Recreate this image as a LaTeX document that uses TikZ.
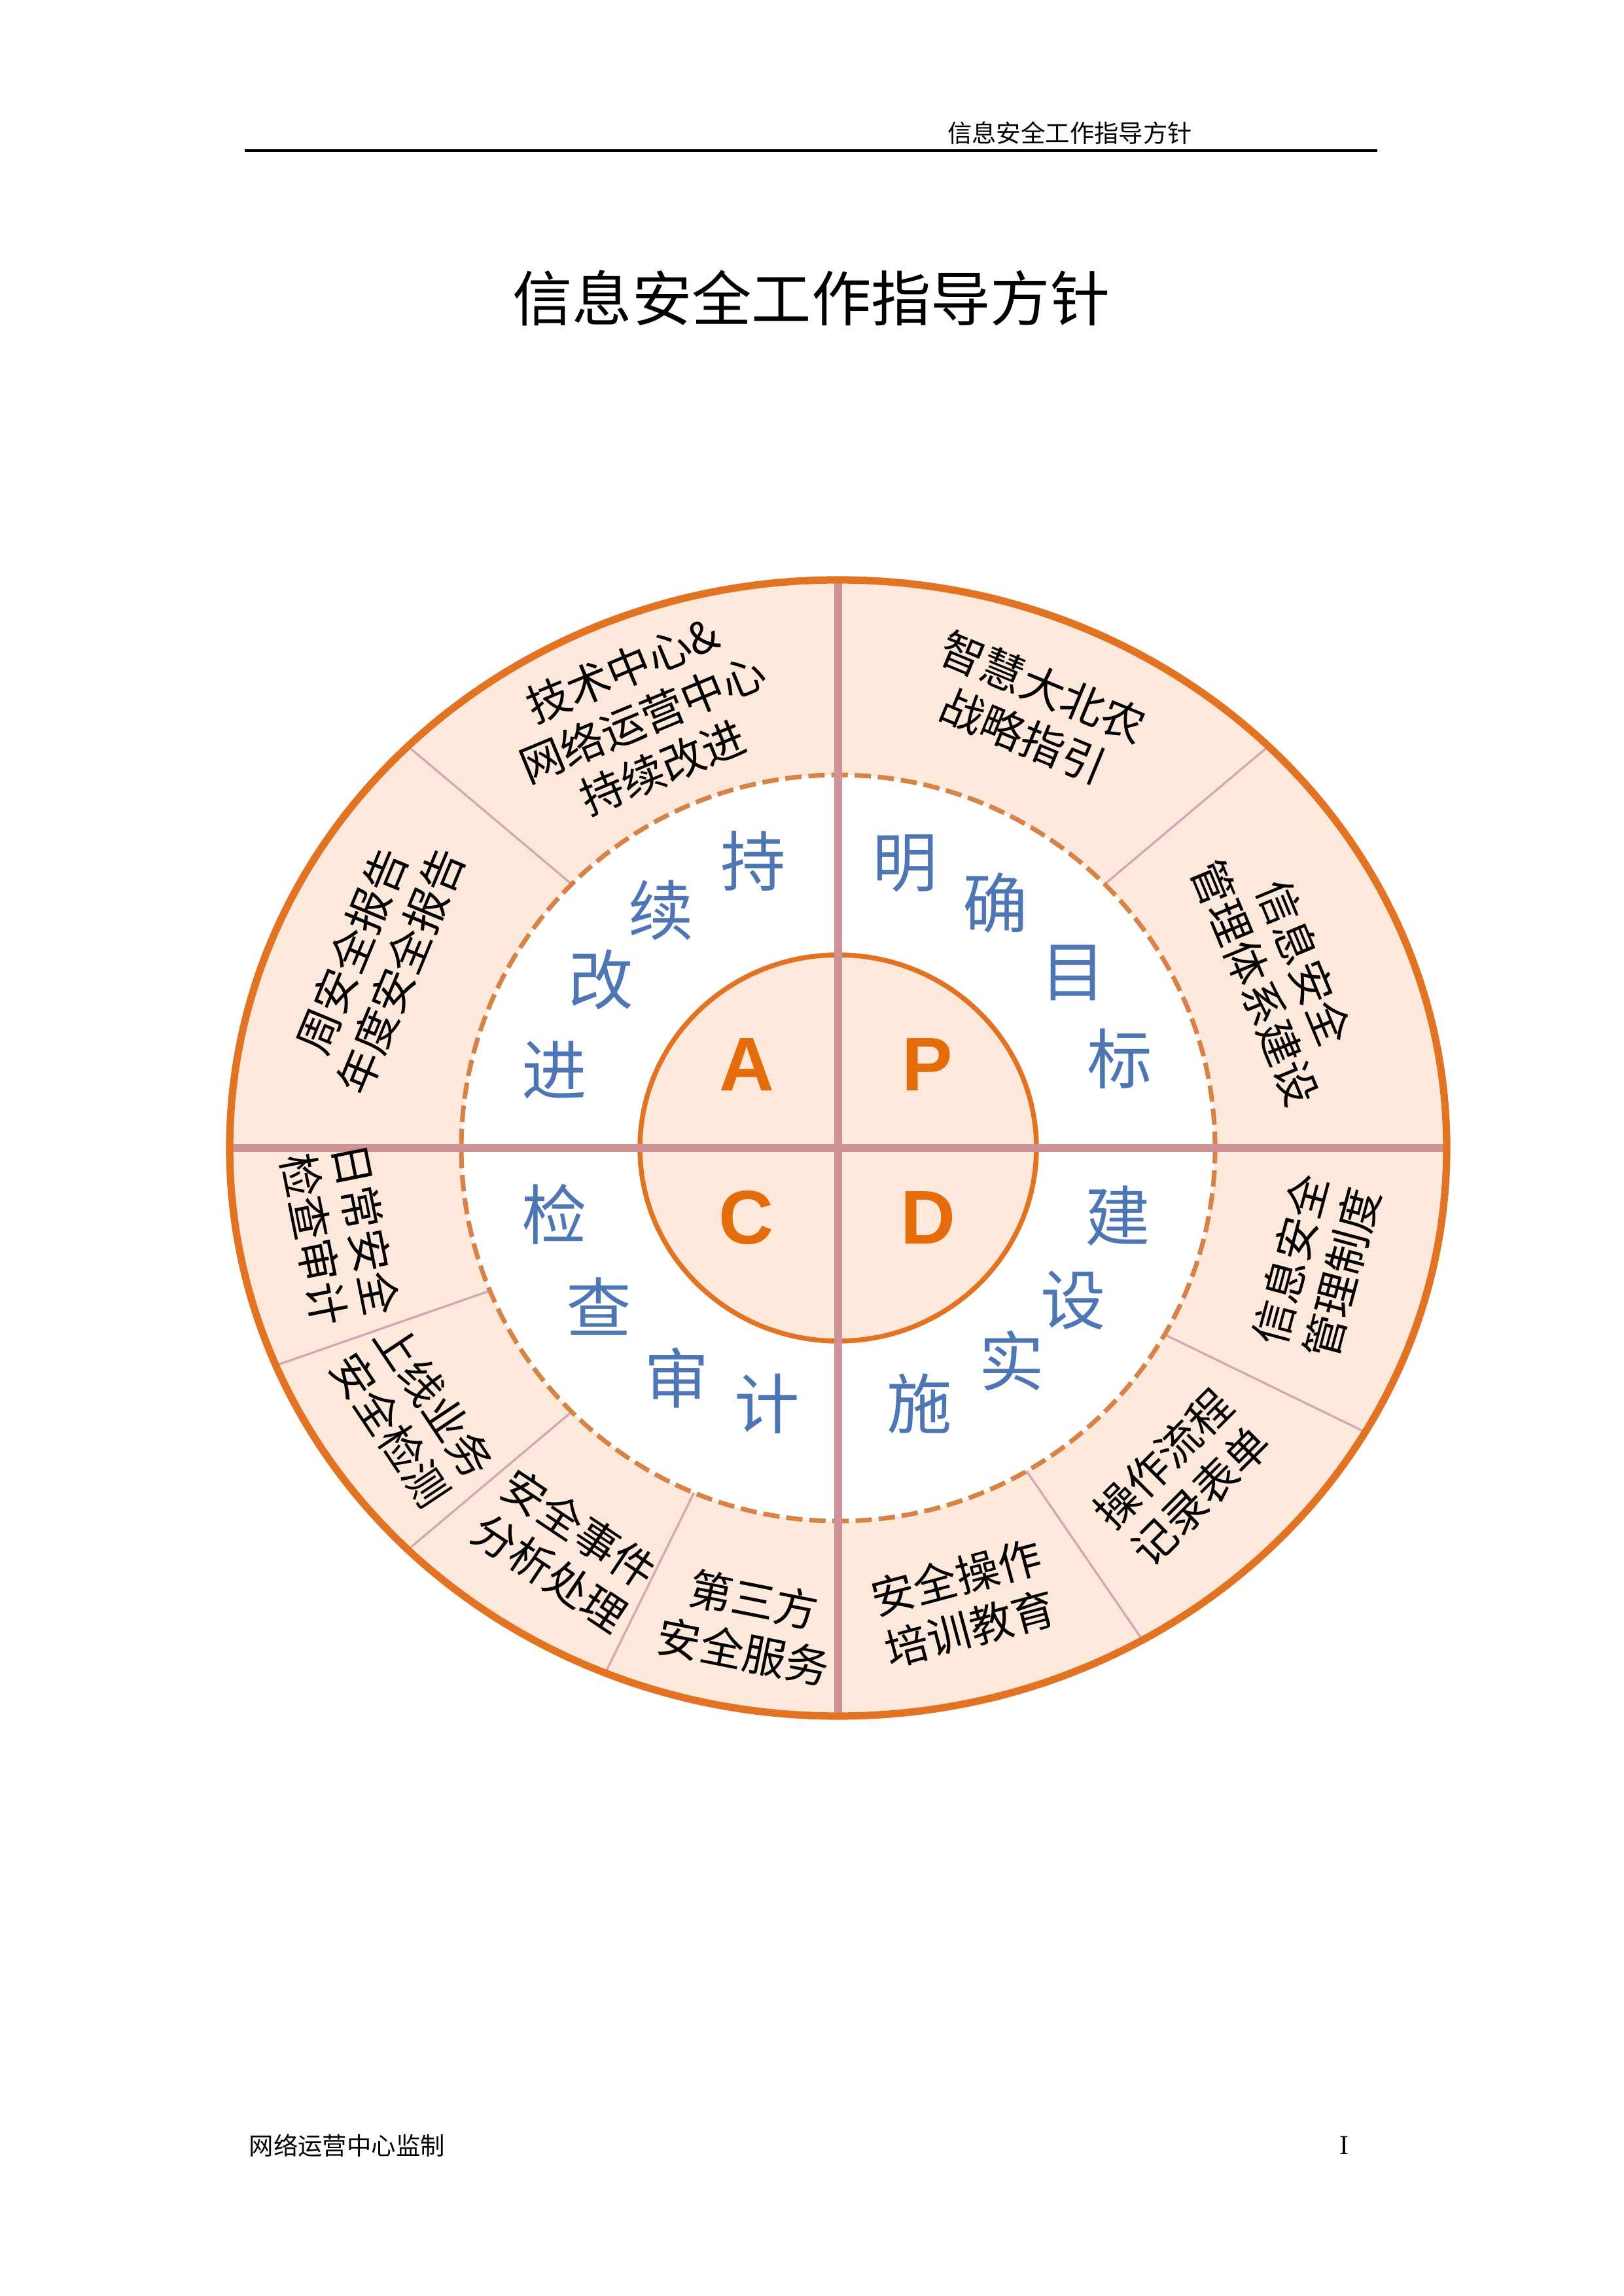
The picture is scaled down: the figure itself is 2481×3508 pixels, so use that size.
\documentclass[tikz,border=0pt]{standalone}
\usepackage{fontspec}
\setmainfont{Liberation Serif}
\newfontfamily\cjk{Noto Sans CJK SC}
\newfontfamily\latinsans{Liberation Sans}
\definecolor{orangeS}{RGB}{225,115,35}
\definecolor{ringfill}{RGB}{253,233,219}
\definecolor{crossc}{RGB}{207,146,150}
\definecolor{divc}{RGB}{212,168,178}
\definecolor{dashc}{RGB}{215,130,70}
\definecolor{bluec}{RGB}{79,118,180}
\definecolor{pdcac}{RGB}{228,108,10}
\tikzset{
  lbl/.style={font=\cjk\fontsize{16}{19.5}\selectfont, align=center, inner sep=0pt},
  bluech/.style={font=\cjk\fontsize{24}{28}\selectfont, text=bluec, inner sep=0pt},
  pdca/.style={font=\latinsans\bfseries\fontsize{28}{32}\selectfont, text=pdcac, inner sep=0pt},
  divider/.style={draw=divc, line width=0.8bp},
  crossline/.style={draw=crossc, line width=3.1bp},
  dashring/.style={draw=dashc, line width=1.7bp, dash pattern=on 6bp off 2.5bp}
}
\begin{document}
\begin{tikzpicture}[x=0.24bp, y=0.24bp]
\useasboundingbox (0,0) rectangle (2481,3508);
% header
\node[font=\cjk\fontsize{9}{11}\selectfont, inner sep=0pt] (hdr) at (1635,3305) {信息安全工作指导方针};
\coordinate (hl) at (374,3278);
\coordinate (hr) at (2105,3278);
\draw[line width=1.1bp] (hl) -- (hr);
% title
\node[font=\cjk\fontsize{22}{26}\selectfont, inner sep=0pt] (title) at (1240,3053) {信息安全工作指导方针};
% footer
\node[font=\cjk\fontsize{9}{11}\selectfont, inner sep=0pt, anchor=west] (foot) at (380,230) {网络运营中心监制};
\node[font=\fontsize{10}{12}\selectfont, inner sep=0pt] (page) at (2054,230) {I};
% wheel
\begin{scope}[shift={(1281,1754)}]
  \fill[ringfill] (0,0) ellipse [x radius=930, y radius=868];
  \fill[white] (0,0) ellipse [x radius=576, y radius=570];
  \foreach \t in {45,135,202.5,225,247.5,-30,-60}
    \draw[divider] ({576*cos(\t)},{570*sin(\t)}) -- ({930*cos(\t)},{868*sin(\t)});
  \draw[dashring] (0,0) ellipse [x radius=576, y radius=570];
  \filldraw[fill=ringfill, draw=orangeS, line width=1.8bp] (0,0) ellipse [x radius=303, y radius=295];
  \draw[crossline] (-930,0) -- (930,0);
  \draw[crossline] (0,-868) -- (0,868);
  \draw[orangeS, line width=2.7bp] (0,0) ellipse [x radius=930, y radius=868];
  % PDCA
  \node[pdca] (pA) at (-140,127) {A};
  \node[pdca] (pP) at (136,127) {P};
  \node[pdca] (pC) at (-141,-107) {C};
  \node[pdca] (pD) at (137,-107) {D};
  % blue characters
  \node[bluech] (b1) at (-130,438) {持};
  \node[bluech] (b2) at (-271,363) {续};
  \node[bluech] (b3) at (-363,257) {改};
  \node[bluech] (b4) at (-434,119) {进};
  \node[bluech] (b5) at (102,435) {明};
  \node[bluech] (b6) at (240,374) {确};
  \node[bluech] (b7) at (359,268) {目};
  \node[bluech] (b8) at (430,136) {标};
  \node[bluech] (b9) at (-434,-101) {检};
  \node[bluech] (b10) at (-366,-242) {查};
  \node[bluech] (b11) at (-247,-351) {审};
  \node[bluech] (b12) at (-109,-391) {计};
  \node[bluech] (b13) at (427,-104) {建};
  \node[bluech] (b14) at (359,-233) {设};
  \node[bluech] (b15) at (265,-325) {实};
  \node[bluech] (b16) at (124,-391) {施};
  % outer labels
  \node[lbl, rotate=22.5] (l1) at (-299,656) {技术中心\&\\网络运营中心\\持续改进};
  \node[lbl, rotate=67.5] (l2) at (-706,286) {周安全报告\\年度安全报告};
  \node[lbl, rotate=-22.5] (l3) at (298,667) {智慧大北农\\战略指引};
  \node[lbl, rotate=-67.5] (l4) at (675,268) {信息安全\\管理体系建设};
  \node[lbl, rotate=75] (l5) at (730,-181) {信息安全\\管理制度};
  \node[lbl, rotate=45] (l6) at (525,-503) {操作流程\\记录表单};
  \node[lbl, rotate=15] (l7) at (191,-695) {安全操作\\培训教育};
  \node[lbl, rotate=-78.75] (l8) at (-761,-132) {日常安全\\检查审计};
  \node[lbl, rotate=-56.25] (l9) at (-651,-408) {上线业务\\安全检测};
  \node[lbl, rotate=-33.75] (l10) at (-418,-615) {安全事件\\分析处理};
  \node[lbl, rotate=-11.25] (l11) at (-137,-730) {第三方\\安全服务};
\end{scope}
\end{tikzpicture}
\end{document}
